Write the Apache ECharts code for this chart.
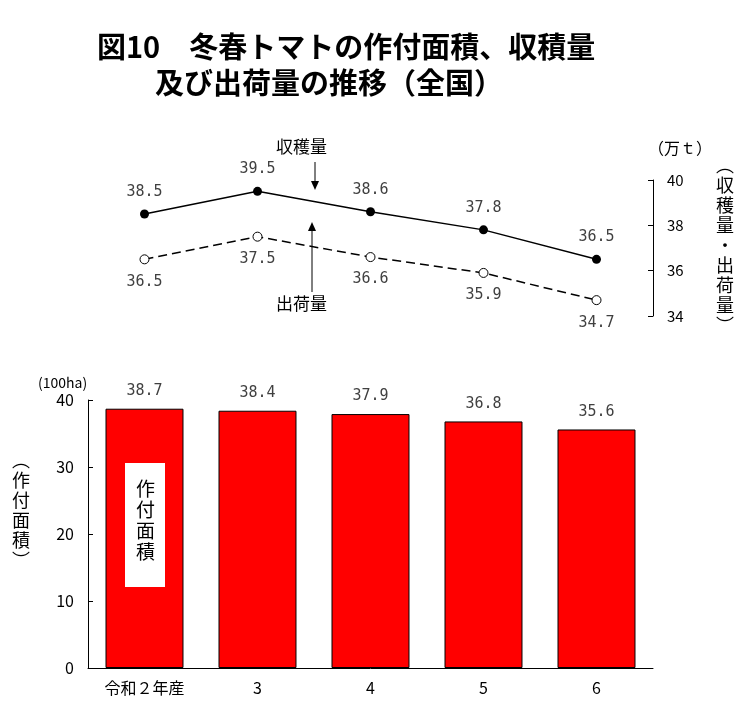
<!DOCTYPE html>
<html><head><meta charset="utf-8">
<script src="https://cdn.jsdelivr.net/npm/echarts@6/dist/echarts.min.js"></script>
<style>body{margin:0;background:#fff}#main{width:752px;height:723px}</style>
</head><body><div id="main"></div>
<script>
var categories = ['令和２年産', '3', '4', '5', '6'];
var shukaku = [38.5, 39.5, 38.6, 37.8, 36.5];   // 収穫量
var shukka = [36.5, 37.5, 36.6, 35.9, 34.7];    // 出荷量
var menseki = [38.7, 38.4, 37.9, 36.8, 35.6];   // 作付面積
var lineTicks = [34, 36, 38, 40];
var barTicks = [0, 10, 20, 30, 40];

var F = '"Noto Sans CJK JP", sans-serif';
var myChart = echarts.init(document.getElementById('main'));
var lbl = function (pos) {
    return { show: true, position: pos, distance: 10, color: '#404040', fontSize: 15, fontFamily: '"DejaVu Sans Mono", monospace',
        formatter: function (p) { return p.value.toFixed(1); } };
};
var vtext = function (x, y, s, size) {
    return { type: 'text', z: 100, left: x, top: y, style: { text: s.split('').join('\n'), font: size + 'px ' + F, fill: '#000', lineHeight: size + 2 } };
};
var option = {
    animation: false,
    title: { text: '図10　冬春トマトの作付面積、収積量\n　　及び出荷量の推移（全国）', left: 92, top: 24,
        textStyle: { fontFamily: F, fontSize: 29, fontWeight: 'bold', lineHeight: 36, color: '#000' } },
    grid: [
        { left: 88, right: 99, top: 180, height: 136 },
        { left: 88, right: 99, top: 400, height: 268 }
    ],
    xAxis: [
        { gridIndex: 0, type: 'category', data: categories, show: false },
        { gridIndex: 1, type: 'category', data: categories, axisLine: { lineStyle: { color: '#000' } },
          axisTick: { show: false }, axisLabel: { color: '#000', fontSize: 16, fontFamily: F, margin: 12 } }
    ],
    yAxis: [
        { gridIndex: 0, type: 'value', position: 'right', min: lineTicks[0], max: lineTicks[lineTicks.length - 1], interval: 2,
          axisLine: { show: true, lineStyle: { color: '#000' } }, axisTick: { show: true, inside: true },
          splitLine: { show: false }, axisLabel: { color: '#000', fontSize: 15, fontFamily: F, margin: 14 } },
        { gridIndex: 1, type: 'value', min: barTicks[0], max: barTicks[barTicks.length - 1], interval: 10,
          axisLine: { show: true, lineStyle: { color: '#000' } }, axisTick: { show: true, inside: true },
          splitLine: { show: false }, axisLabel: { color: '#000', fontSize: 16, fontFamily: F, margin: 14 } }
    ],
    series: [
        { type: 'line', xAxisIndex: 0, yAxisIndex: 0, data: shukaku, symbol: 'circle', symbolSize: 9,
          itemStyle: { color: '#000' }, lineStyle: { color: '#000', width: 1.5 }, label: lbl('top') },
        { type: 'line', xAxisIndex: 0, yAxisIndex: 0, data: shukka, symbol: 'circle', symbolSize: 9,
          itemStyle: { color: '#fff', borderColor: '#000', borderWidth: 1 }, lineStyle: { color: '#000', width: 1.5, type: [9, 5] },
          label: lbl('bottom') },
        { type: 'bar', xAxisIndex: 1, yAxisIndex: 1, data: menseki, barWidth: '69%',
          itemStyle: { color: '#ff0000', borderColor: '#000', borderWidth: 1 }, label: lbl('top') }
    ],
    graphic: [
        { type: 'text', left: 276, top: 138, style: { text: '収穫量', font: '17px ' + F, fill: '#000' } },
        { type: 'line', shape: { x1: 315, y1: 162, x2: 315, y2: 186 }, style: { stroke: '#000', lineWidth: 1 } },
        { type: 'polygon', shape: { points: [[311, 181], [319, 181], [315, 190]] }, style: { fill: '#000' } },
        { type: 'text', left: 276, top: 295, style: { text: '出荷量', font: '17px ' + F, fill: '#000' } },
        { type: 'line', shape: { x1: 312, y1: 292, x2: 312, y2: 226 }, style: { stroke: '#000', lineWidth: 1 } },
        { type: 'polygon', shape: { points: [[308, 231], [316, 231], [312, 222]] }, style: { fill: '#000' } },
        { type: 'text', left: 648, top: 140, style: { text: '（万ｔ）', font: '16px ' + F, fill: '#000' } },
        vtext(716, 155, '︵収穫量・出荷量︶', 18),
        { type: 'text', left: 38, top: 376, style: { text: '(100ha)', font: '14px ' + F, fill: '#000' } },
        vtext(12, 450, '︵作付面積︶', 18),
        { type: 'rect', z: 99, shape: { x: 125, y: 463, width: 40, height: 124 }, style: { fill: '#fff' } },
        vtext(136, 478, '作付面積', 19)
    ]
};
myChart.setOption(option);
</script></body></html>
